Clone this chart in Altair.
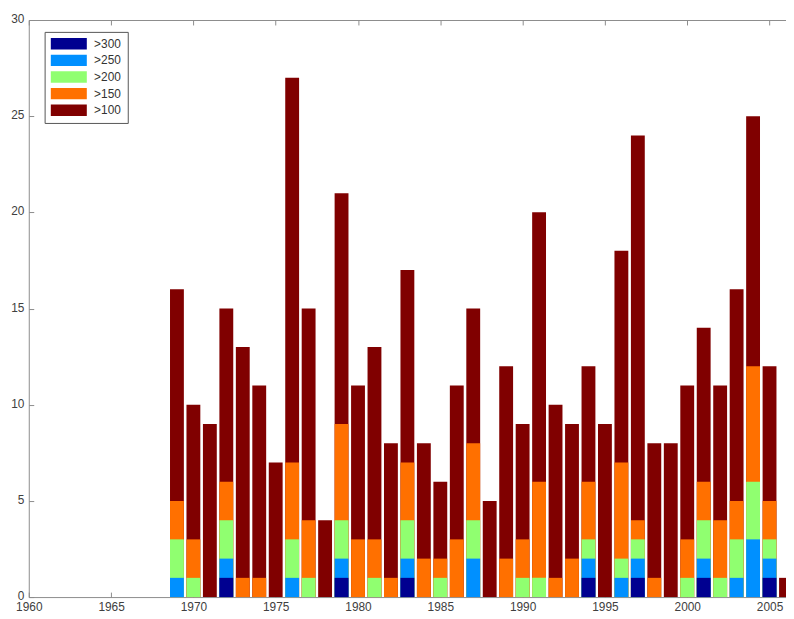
import altair as alt
import pandas as pd

years = list(range(1969, 2007))
gt100 = [16, 10, 9, 15, 13, 11, 7, 27, 15, 4,
         21, 11, 13, 8, 17, 8, 6, 11, 15, 5,
         12, 9, 20, 10, 9, 12, 9, 18, 24, 8,
         8, 11, 14, 11, 16, 25, 12, 1]
gt150 = [5, 3, 0, 6, 1, 1, 0, 7, 4, 0,
         9, 3, 3, 1, 7, 2, 2, 3, 8, 0,
         2, 3, 6, 1, 2, 6, 0, 7, 4, 1,
         0, 3, 6, 4, 5, 12, 5, 0]
gt200 = [3, 1, 0, 4, 0, 0, 0, 3, 1, 0,
         4, 0, 1, 0, 4, 0, 1, 0, 4, 0,
         0, 1, 1, 0, 0, 3, 0, 2, 3, 0,
         0, 1, 4, 1, 3, 6, 3, 0]
gt250 = [1, 0, 0, 2, 0, 0, 0, 1, 0, 0,
         2, 0, 0, 0, 2, 0, 0, 0, 2, 0,
         0, 0, 0, 0, 0, 2, 0, 1, 2, 0,
         0, 0, 2, 0, 1, 3, 2, 0]
gt300 = [0, 0, 0, 1, 0, 0, 0, 0, 0, 0,
         1, 0, 0, 0, 1, 0, 0, 0, 0, 0,
         0, 0, 0, 0, 0, 1, 0, 0, 1, 0,
         0, 0, 1, 0, 0, 0, 1, 0]

legend_labels = [">300", ">250", ">200", ">150", ">100"]
colors = ["#000090", "#0090ff", "#90ff70", "#ff7000", "#800000"]
draw_order = [">100", ">150", ">200", ">250", ">300"]
series = {">100": gt100, ">150": gt150, ">200": gt200, ">250": gt250, ">300": gt300}

rows = []
for name in draw_order:
    for yr, v in zip(years, series[name]):
        rows.append({"year": yr, "count": v, "level": name})
df = pd.DataFrame(rows)

x_ticks = list(range(1960, 2006, 5))
y_ticks = list(range(0, 31, 5))

W, H = 765, 583
xscale = alt.Scale(domain=[1960, 2006.0], nice=False, zero=False, padding=0)
yscale = alt.Scale(domain=[0, 30], nice=False, padding=0)

FONT = "Liberation Sans"
AX = "#8c8c8c"
LAB = "#404040"
FS = 12

bars = alt.Chart(df).mark_bar(width=14).encode(
    x=alt.X("year:Q", scale=xscale,
            axis=alt.Axis(orient="bottom", values=x_ticks, format="d", title=None,
                          ticks=False, grid=False, domain=True, domainColor=AX,
                          labelPadding=5, labelFont=FONT, labelFontSize=FS,
                          labelColor=LAB, labelFlush=False)),
    y=alt.Y("count:Q", stack=None, scale=yscale,
            axis=alt.Axis(orient="left", values=y_ticks, title=None, ticks=False,
                          grid=False, domain=True, domainColor=AX, labelPadding=5,
                          labelOffset=-1.5,
                          labelFont=FONT, labelFontSize=FS, labelColor=LAB,
                          labelFlush=False)),
    color=alt.Color("level:N",
                    scale=alt.Scale(domain=legend_labels, range=colors),
                    legend=alt.Legend(title=None, orient="none", legendX=16, legendY=12,
                                      symbolType="M-1,-1H5.33V1H-1Z", symbolSize=132,
                                      symbolStrokeWidth=0, labelOffset=32,
                                      rowPadding=4.8, padding=6, strokeColor="#555555",
                                      fillColor="white", labelFont=FONT,
                                      labelFontSize=FS, labelColor="#333333")),
)

inner_ticks = alt.Chart(df).mark_point(opacity=0).encode(
    x=alt.X("year:Q", scale=xscale,
            axis=alt.Axis(orient="top", offset=-H, values=x_ticks, labels=False,
                          domain=False, ticks=True, tickSize=5, tickColor=AX,
                          title=None, grid=False)),
    y=alt.Y("count:Q", scale=yscale,
            axis=alt.Axis(orient="right", offset=-W, values=y_ticks, labels=False,
                          domain=False, ticks=True, tickSize=5, tickColor=AX,
                          title=None, grid=False)),
)

top_frame = alt.Chart(df).mark_point(opacity=0).encode(
    x=alt.X("year:Q", scale=xscale,
            axis=alt.Axis(orient="bottom", offset=-H, values=x_ticks, labels=False,
                          domain=True, domainColor=AX, ticks=True, tickSize=5,
                          tickColor=AX, title=None, grid=False)),
    y=alt.Y("count:Q", scale=yscale, axis=None),
)

chart = alt.layer(bars, inner_ticks, top_frame).resolve_scale(
    x="shared", y="shared"
).resolve_axis(
    x="independent", y="independent"
).properties(
    width=W, height=H,
    autosize=alt.AutoSizeParams(type="none"),
    padding={"left": 21, "top": 9, "right": 0, "bottom": 18},
).configure_view(stroke=None)

chart.save("out.html", embed_options={"renderer": "svg", "actions": False})
